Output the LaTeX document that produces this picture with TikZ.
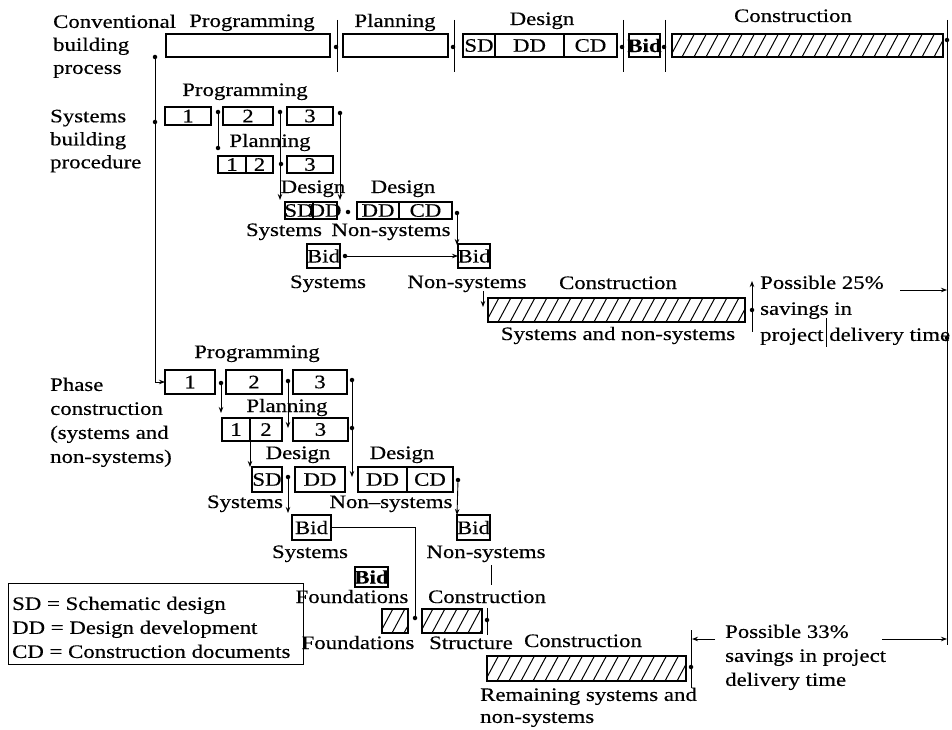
\documentclass[tikz,border=0pt]{standalone}
\usepackage{fontspec}
\setmainfont{Liberation Serif}[FakeStretch=1.2,FakeBold=0.4]
\usetikzlibrary{arrows.meta}

\tikzset{
  box/.style={draw, line width=1.3pt, inner sep=0pt, outer sep=0pt},
  heavy/.style={line width=2.3pt},
  hatch/.style={path picture={
      \foreach \k in {0,...,50}{
        \draw[line width=1pt] ([xshift={\k*12pt-26pt}]path picture bounding box.south west) -- ++(15pt,28pt);}}},
  lbl/.style={inner sep=0pt, anchor=base},
  mlbl/.style={inner sep=0pt, anchor=north west, align=left},
  link/.style={line width=0.9pt},
  arr/.style={link, -{Stealth[length=6pt,width=4.5pt]}},
  dotm/.style={fill, circle, inner sep=0pt, minimum size=4.5pt},
}

% box from (x1,y1) to (x2,y2), y measured downwards
\newcommand\bx[7][]{%
  \node[box,#1,minimum width={(#5-#3)*1pt},minimum height={(#6-#4)*1pt}]
    (#2) at ({(#3+#5)/2},{(#4+#6)/2}) {\makebox[0pt]{#7}};}

\begin{document}
\begin{tikzpicture}[x=1pt,y=-1pt,font=\fontsize{19}{23}\selectfont]
\useasboundingbox (0,0) rectangle (952,730);

% ---------------- conventional process ----------------
\node[mlbl] (conv) at (53,14.5) {Conventional\\building\\process};
\node[lbl] (hP0) at (252,27) {Programming};
\node[lbl] (hL0) at (395,27) {Planning};
\node[lbl] (hD0) at (542,25) {Design};
\node[lbl] (hC0) at (793,22) {Construction};
\bx{P0}{166}{34}{330}{57}{}
\bx{L0}{343}{34}{448}{57}{}
\bx[heavy]{SD0}{463}{34}{495}{57}{SD}
\bx{DD0}{495}{34}{564}{57}{DD}
\bx{CD0}{564}{34}{617}{57}{CD}
\bx[heavy]{B0}{629}{34}{660}{57}{\textbf{Bid}}
\bx[hatch]{C0}{672}{34}{943}{57}{}
\foreach \x in {337,454,623,665}{
  \draw[link] (\x,20) -- (\x,72);
  \node[dotm] (tk\x) at (\x-1,47) {};}
% time axis on the right
\coordinate (axT) at (947,20);
\coordinate (axB) at (947,645);
\draw[link] (axT) -- (axB);
\node[dotm] (ax1) at (947,40) {};
\node[dotm] (ax2) at (947,338) {};

% ---------------- systems building procedure ----------------
\node[mlbl] (sysl) at (50,109.5) {Systems\\building\\procedure};
\node[dotm] (lt) at (155,57) {};
\node[dotm] (lm) at (155,122) {};
\node[lbl] (hP1) at (245,96) {Programming};
\bx{S1}{165}{107}{211}{125}{1}
\bx{S2}{223}{107}{273}{125}{2}
\bx{S3}{287}{107}{333}{125}{3}
\node[lbl] (hL1) at (270,147) {Planning};
\bx{SL1}{218}{156}{246}{173}{1}
\bx{SL2}{246}{156}{273}{173}{2}
\bx{SL3}{287}{156}{333}{173}{3}
\node[dotm] (sa1) at (218,112) {};
\node[dotm] (sa2) at (218,148) {};
\draw[link] (sa1) -- (sa2);
\node[dotm] (sb1) at (280,112) {};
\node[dotm] (sb2) at (281,164) {};
\draw[arr] (sb1) -- (280,200);
\node[dotm] (sc1) at (340,113) {};
\draw[arr] (sc1) -- (340,200);

\node[lbl] (hD1) at (313,193) {Design};
\bx[heavy]{SSD}{285}{202}{313}{219}{SD}
\bx[heavy]{SDD}{313}{202}{337}{219}{DD}
\node[dotm] (sdot) at (348,212) {};
\node[lbl] (hD2) at (403,193) {Design};
\bx{NDD}{357}{202}{399}{219}{DD}
\bx{NCD}{399}{202}{452}{219}{CD}
\node[lbl] (ls1) at (284,236) {Systems};
\node[lbl] (ln1) at (391,236) {Non-systems};
\bx{SB}{307}{244}{340}{268}{Bid}
\bx{NB}{458}{244}{490}{268}{Bid}
\node[dotm] (sd1) at (457,213) {};
\draw[arr] (sd1) -- (457,245);
\node[dotm] (sbd) at (345,256) {};
\draw[arr] (sbd) -- (NB.west);
\node[lbl] (ls2) at (328,288) {Systems};
\node[lbl] (ln2) at (467,288) {Non-systems};

\node[lbl] (hC1) at (618,289) {Construction};
\bx[hatch]{C1}{488}{298}{745}{322}{}
\draw[arr] (483,291) -- (483,307);
\node[lbl] (lsn) at (618,340) {Systems and non-systems};
\draw[link] (752,283) -- (752,332);
\draw[arr] (752,296) -- (752,281);
\node[dotm] (d25) at (752,310) {};
\node[mlbl,font=\fontsize{19}{26}\selectfont] (p25) at (760,275.5)
  {Possible 25\%\\savings in\\project delivery time};
\draw[arr] (900,290) -- (axT |- 0,290);
\draw[link] (826,318) -- (826,347);

% ---------------- phase construction ----------------
\node[mlbl,font=\fontsize{19}{24}\selectfont] (phl) at (50,377.5)
  {Phase\\construction\\(systems and\\non-systems)};
\node[lbl] (hP2) at (257,358) {Programming};
\bx{F1}{165}{370}{215}{394}{1}
\bx{F2}{226}{370}{282}{394}{2}
\bx{F3}{293}{370}{347}{394}{3}
\draw[arr] (lt) -- (155,382) -- (F1.west);
\node[lbl] (hL2) at (287,412) {Planning};
\bx{FL1}{222}{418}{250}{441}{1}
\bx{FL2}{250}{418}{282}{441}{2}
\bx{FL3}{293}{418}{348}{441}{3}
\node[dotm] (fa1) at (221,383) {};
\draw[arr] (fa1) -- (221,413);
\node[dotm] (fb1) at (288,381) {};
\draw[arr] (fb1) -- (288,428);
\node[dotm] (fc1) at (352,380) {};
\node[dotm] (fc2) at (352,428) {};
\draw[arr] (fc1) -- (352,477);

\node[lbl] (hD3) at (298,459) {Design};
\bx[heavy]{FSD}{252}{467}{282}{492}{SD}
\bx{FDD}{295}{467}{345}{492}{DD}
\node[lbl] (hD4) at (402,459) {Design};
\bx{FNDD}{358}{467}{407}{492}{DD}
\bx{FNCD}{407}{467}{453}{492}{CD}
\draw[arr] (FL1.south east) -- (FSD.north -| FL1.south east);
\node[dotm] (fd1) at (288,477) {};
\draw[arr] (fd1) -- (288,513);
\node[dotm] (fe1) at (458,480) {};
\node[lbl] (ls3) at (245,508) {Systems};
\node[lbl] (ln3) at (391,508) {Non--systems};
\bx{FSB}{292}{515}{331}{540}{Bid}
\bx{FNB}{457}{515}{490}{540}{Bid}
\draw[arr] (fe1) -- (FNB.north west);
\node[lbl] (ls4) at (310,558) {Systems};
\node[lbl] (ln4) at (486,558) {Non-systems};
\node[dotm] (ff) at (415,618) {};
\draw[link] (FSB.east) -| (ff);
\draw[link] (491,565) -- (491,585);
\bx[heavy]{FB}{355}{567}{388}{587}{\textbf{Bid}}
\node[lbl] (lf1) at (352,603) {Foundations};
\node[lbl] (lc2) at (487,603) {Construction};
\bx[hatch]{HF}{382}{609}{408}{633}{}
\bx[hatch]{HS}{422}{609}{482}{633}{}
\draw[link] (487,608) -- (487,635);
\node[dotm] (fs) at (487,620) {};
\node[lbl] (lf2) at (358,649) {Foundations};
\node[lbl] (lst) at (471,649) {Structure};
\node[lbl] (lc3) at (583,647) {Construction};
\bx[hatch]{HR}{487}{656}{686}{681}{}
\draw[link] (691,630) -- (691,688);
\node[dotm] (d33) at (691,667) {};
\draw[arr] (715,639) -- (692,639);
\node[mlbl,font=\fontsize{19}{24}\selectfont] (p33) at (725,624.5)
  {Possible 33\%\\savings in project\\delivery time};
\draw[arr] (882,639) -- (axB |- 0,639);
\node[mlbl,font=\fontsize{19}{22}\selectfont] (rem) at (480,687.5)
  {Remaining systems and\\non-systems};

% ---------------- legend ----------------
\bx[line width=1pt]{leg}{8}{583}{303}{664}{}
\node[mlbl,font=\fontsize{19}{24}\selectfont] (legt) at (12,596.5)
  {SD = Schematic design\\DD = Design development\\CD = Construction documents};
\end{tikzpicture}
\end{document}
